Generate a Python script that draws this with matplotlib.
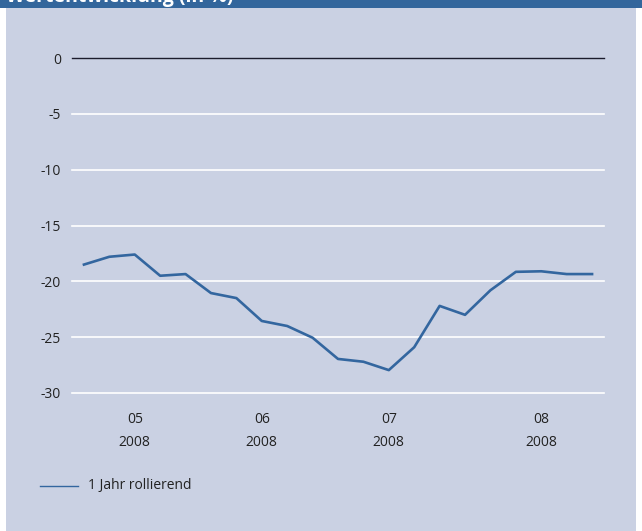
import matplotlib
matplotlib.use("Agg")
import matplotlib.pyplot as plt
from matplotlib.patches import Rectangle

# weekly values, 1 Jahr rollierend (in %)
values = [-18.5, -17.8, -17.6, -19.5, -19.35, -21.05, -21.5, -23.55, -24.0, -25.05,
          -26.95, -27.2, -27.95, -25.9, -22.2, -23.0, -20.8, -19.15, -19.1, -19.35, -19.35]
tick_pos = [2, 7, 12, 18]
tick_labels = ["05\n2008", "06\n2008", "07\n2008", "08\n2008"]
y_ticks = [0, -5, -10, -15, -20, -25, -30]
title = "Wertentwicklung (in %)"
legend_label = "1 Jahr rollierend"

W, H = 642, 531
bg = "#cad1e3"
blue = "#33669c"
line_col = "#33669f"

plt.rcParams['font.family'] = ['Open Sans', 'DejaVu Sans']

fig = plt.figure(figsize=(W / 100, H / 100), dpi=100)
fig.patch.set_facecolor("white")

# panel background and header band
fig.patches.append(Rectangle((6 / W, 0), 630 / W, 1 - 8 / H, transform=fig.transFigure,
                             facecolor=bg, edgecolor="none", zorder=-10))
fig.patches.append(Rectangle((0, 1 - 8 / H), 1, 8 / H, transform=fig.transFigure,
                             facecolor=blue, edgecolor="none", zorder=-10))
fig.text(6 / W, 1 - 2 / H, title, color="white", fontsize=14, fontweight="bold",
         va="baseline", ha="left", zorder=-5)

ax = fig.add_axes([72 / W, 1 - 393 / H, 532 / W, 335 / H])
ax.set_facecolor("none")
x = list(range(len(values)))
ax.set_xlim(-0.47, len(values) - 1 + 0.47)
ax.set_ylim(-30, 0)

for yv in y_ticks:
    if yv == 0:
        ax.axhline(yv, color="#1c1c2c", lw=1.0, zorder=1, clip_on=False)
    else:
        ax.axhline(yv, color="white", lw=1.2, zorder=1, clip_on=False)

line, = ax.plot(x, values, color=line_col, lw=1.9, zorder=3, solid_joinstyle="round")

for s in ax.spines.values():
    s.set_visible(False)
ax.set_yticks(y_ticks)
ax.set_yticklabels([str(v) for v in y_ticks])
ax.set_xticks(tick_pos)
ax.set_xticklabels(tick_labels, linespacing=1.7)
ax.tick_params(axis="both", length=0, labelsize=10, colors="#222222")
ax.tick_params(axis="y", pad=8)
ax.tick_params(axis="x", pad=14)

# legend
fig.lines.append(plt.Line2D([40 / W, 78 / W], [1 - 486 / H] * 2, transform=fig.transFigure,
                            color=line_col, lw=1.0))
fig.text(88 / W, 1 - 486 / H, legend_label, fontsize=10, color="#222222",
         va="center", ha="left")

fig.savefig("out.png", dpi=100, facecolor=fig.get_facecolor())
